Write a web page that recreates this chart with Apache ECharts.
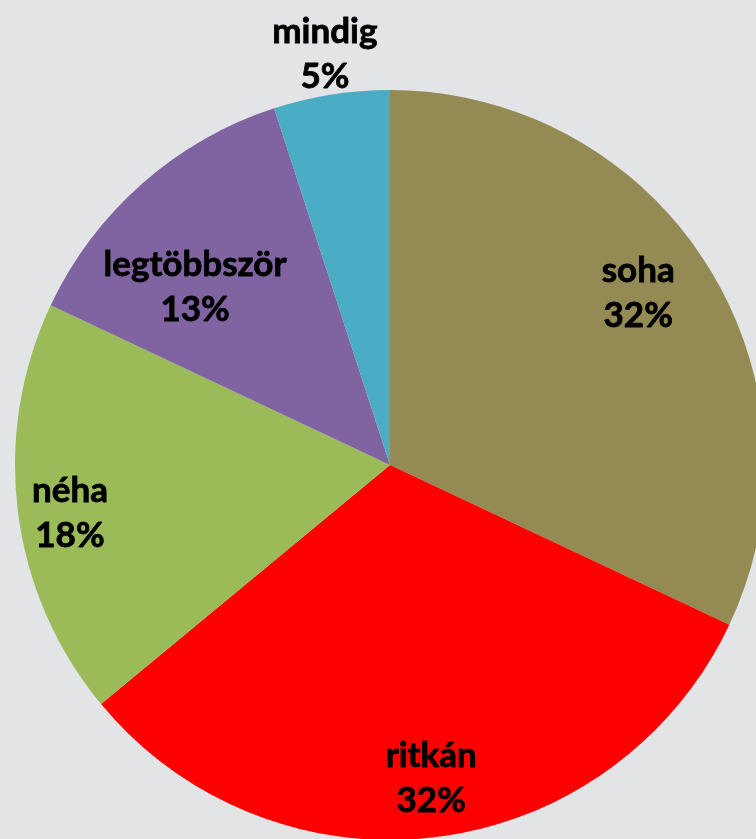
<!DOCTYPE html>
<html>
<head>
<meta charset="utf-8">
<script src="https://cdn.jsdelivr.net/npm/echarts@6/dist/echarts.min.js"></script>
<style>
html,body{margin:0;padding:0;background:#e3e4e6;}
#chart{width:756px;height:839px;}
</style>
</head>
<body>
<div id="chart"></div>
<script>
const categories = ['soha', 'ritkán', 'néha', 'legtöbbször', 'mindig'];
const values = [32, 32, 18, 13, 5];
const colors = ['#948A54', '#FF0000', '#9BBB59', '#8064A2', '#4BACC6'];
// label placement (style): distance from centre as fraction of radius, angular shift in degrees
const labelRadius = [0.805, 0.842, 0.863, 0.704, 1.11];
const labelShift = [-2.3, -0.3, -1.3, -6.2, 0];

const CX = 390, CY = 465, R = 375;
const total = values.reduce((a, b) => a + b, 0);
const midAngles = [];
let acc = 0;
values.forEach(v => { midAngles.push((acc + v / 2) / total * 2 * Math.PI); acc += v; });

const chart = echarts.init(document.getElementById('chart'));
chart.setOption({
  backgroundColor: '#e3e4e6',
  animation: false,
  series: [{
    type: 'pie',
    center: [CX, CY],
    radius: [0, R],
    startAngle: 90,
    clockwise: true,
    avoidLabelOverlap: false,
    emphasis: { disabled: true },
    labelLine: { show: false },
    label: {
      show: true,
      position: 'inside',
      formatter: '{b}\n{d}%',
      fontFamily: 'Lato',
      fontWeight: 'bold',
      fontSize: 35,
      lineHeight: 45,
      color: '#000',
      textBorderColor: '#000',
      textBorderWidth: 0.8
    },
    labelLayout: function (p) {
      const i = p.dataIndex;
      const a = midAngles[i] + labelShift[i] * Math.PI / 180;
      const k = labelRadius[i] * R;
      return {
        x: CX + k * Math.sin(a),
        y: CY - k * Math.cos(a),
        align: 'center',
        verticalAlign: 'middle'
      };
    },
    data: categories.map((c, i) => ({ name: c, value: values[i], itemStyle: { color: colors[i] } }))
  }]
});
</script>
</body>
</html>
